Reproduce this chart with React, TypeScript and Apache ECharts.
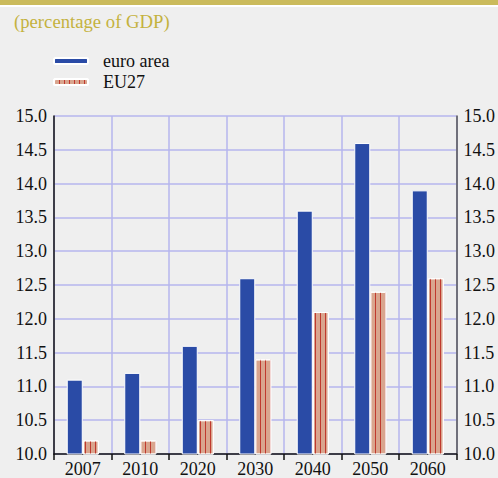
import React, { useEffect, useRef } from "react";
import * as echarts from "echarts";

const categories = ["2007", "2010", "2020", "2030", "2040", "2050", "2060"];
const euroArea = [11.1, 11.2, 11.6, 12.6, 13.6, 14.6, 13.9];
const eu27 = [10.2, 10.2, 10.5, 11.4, 12.1, 12.4, 12.6];
const seriesNames = ["euro area", "EU27"];
const subtitle = "(percentage of GDP)";

const SERIF = "Liberation Serif";
const GRID_COLOR = "#b6b6ee";

export default function App() {
  const ref = useRef<HTMLDivElement>(null);
  useEffect(() => {
    if (!ref.current) return;
    const chart = echarts.init(ref.current, null, { renderer: "svg" });
    const yAxisCommon = {
      type: "value" as const,
      min: 10,
      max: 15,
      interval: 0.5,
      axisLabel: {
        formatter: (v: number) => v.toFixed(1),
        fontFamily: SERIF,
        fontSize: 18,
        color: "#111",
        margin: 7,
      },
      axisTick: { show: false },
    };
    chart.setOption({
      animation: false,
      backgroundColor: "#efefef",
      textStyle: { fontFamily: SERIF },
      graphic: [
        { type: "rect", left: 0, top: 0, shape: { width: 498, height: 5 }, style: { fill: "#cbbb5c" } },
        { type: "rect", left: 0, top: 5, shape: { width: 498, height: 2 }, style: { fill: "#ffffff" } },
        {
          type: "text",
          left: 14,
          top: 12,
          style: { text: subtitle, fill: "#c4b23e", font: `18.7px ${SERIF}` },
        },
      ],
      legend: {
        orient: "vertical",
        left: 53,
        top: 52,
        padding: 0,
        itemWidth: 34,
        itemHeight: 6,
        itemGap: 3,
        data: seriesNames,
        textStyle: { fontFamily: SERIF, fontSize: 18, color: "#111", lineHeight: 18, padding: [0, 0, 0, 10] },
      },
      grid: { left: 54, right: 41, top: 116, bottom: 23, containLabel: false },
      xAxis: {
        type: "category",
        data: categories,
        boundaryGap: true,
        axisLine: { show: true, lineStyle: { color: "#111", width: 1.5 } },
        axisTick: { show: true, interval: 0, length: 6, lineStyle: { color: "#111", width: 1.5 } },
        axisLabel: { fontFamily: SERIF, fontSize: 18, color: "#111", margin: 6, interval: 0 },
        splitLine: { show: true, interval: 0, lineStyle: { color: GRID_COLOR, width: 1.5 } },
      },
      yAxis: [
        {
          ...yAxisCommon,
          position: "left",
          axisLine: { show: true, lineStyle: { color: "#111", width: 1.5 } },
          splitLine: { show: true, lineStyle: { color: GRID_COLOR, width: 1.5 } },
        },
        {
          ...yAxisCommon,
          position: "right",
          axisLine: { show: true, lineStyle: { color: "#555", width: 1.5 } },
          splitLine: { show: false },
        },
      ],
      series: [
        {
          name: seriesNames[0],
          type: "bar",
          data: euroArea,
          barWidth: 16,
          barGap: "0%",
          itemStyle: { color: "#2a4ba6", borderColor: "#ffffff", borderWidth: 1 },
        },
        {
          name: seriesNames[1],
          type: "bar",
          data: eu27,
          barWidth: 16,
          barGap: "0%",
          itemStyle: {
            color: "#d9a58e",
            borderColor: "#ffffff",
            borderWidth: 1,
            decal: {
              symbol: "rect",
              symbolSize: 1,
              dashArrayX: [1, 4],
              dashArrayY: [4, 0],
              rotation: 0,
              color: "#c0392e",
            },
          },
        },
      ],
    });
    return () => chart.dispose();
  }, []);
  return (
    <div
      ref={ref}
      style={{ position: "absolute", left: 0, top: 0, width: 498, height: 478 }}
    />
  );
}
